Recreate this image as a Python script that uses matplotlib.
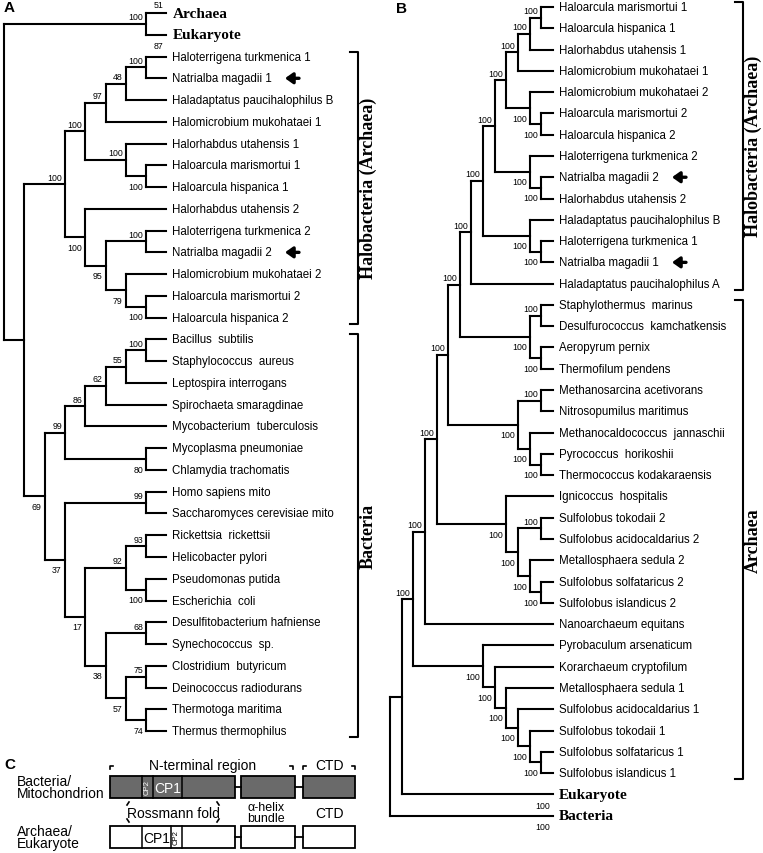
import matplotlib.pyplot as plt
from matplotlib.patches import Rectangle

plt.rcParams['font.family'] = ['Liberation Sans', 'DejaVu Sans']

# ------------------------------------------------------------------ #
#                         data : panel A                             #
# ------------------------------------------------------------------ #
leaves_a = ['Archaea', 'Eukaryote',
            'Haloterrigena turkmenica 1', 'Natrialba magadii 1', 'Haladaptatus paucihalophilus B',
            'Halomicrobium mukohataei 1', 'Halorhabdus utahensis 1', 'Haloarcula marismortui 1',
            'Haloarcula hispanica 1', 'Halorhabdus utahensis 2', 'Haloterrigena turkmenica 2',
            'Natrialba magadii 2', 'Halomicrobium mukohataei 2', 'Haloarcula marismortui 2',
            'Haloarcula hispanica 2',
            'Bacillus  subtilis', 'Staphylococcus  aureus', 'Leptospira interrogans',
            'Spirochaeta smaragdinae', 'Mycobacterium  tuberculosis', 'Mycoplasma pneumoniae',
            'Chlamydia trachomatis', 'Homo sapiens mito', 'Saccharomyces cerevisiae mito',
            'Rickettsia  rickettsii', 'Helicobacter pylori', 'Pseudomonas putida',
            'Escherichia  coli', 'Desulfitobacterium hafniense', 'Synechococcus  sp.',
            'Clostridium  butyricum', 'Deinococcus radiodurans', 'Thermotoga maritima',
            'Thermus thermophilus']

# node = (depth level, support, label side, children)
tree_a = (0, None, None, [
    (7, '100', 'above', ['Archaea', 'Eukaryote']),
    (1, None, None, [
        (3, '100', 'above', [
            (4, '100', 'above', [
                (5, '97', 'above', [
                    (6, '48', 'above', [
                        (7, '100', 'above', ['Haloterrigena turkmenica 1', 'Natrialba magadii 1']),
                        'Haladaptatus paucihalophilus B']),
                    'Halomicrobium mukohataei 1']),
                (6, '100', 'above', [
                    'Halorhabdus utahensis 1',
                    (7, '100', 'below', ['Haloarcula marismortui 1', 'Haloarcula hispanica 1'])])]),
            (4, '100', 'below', [
                'Halorhabdus utahensis 2',
                (5, '95', 'below', [
                    (7, '100', 'above', ['Haloterrigena turkmenica 2', 'Natrialba magadii 2']),
                    (6, '79', 'below', [
                        'Halomicrobium mukohataei 2',
                        (7, '100', 'below', ['Haloarcula marismortui 2', 'Haloarcula hispanica 2'])])])])]),
        (2, '69', 'below', [
            (3, '99', 'above', [
                (4, '86', 'above', [
                    (5, '62', 'above', [
                        (6, '55', 'above', [
                            (7, '100', 'above', ['Bacillus  subtilis', 'Staphylococcus  aureus']),
                            'Leptospira interrogans']),
                        'Spirochaeta smaragdinae']),
                    'Mycobacterium  tuberculosis']),
                (7, '80', 'below', ['Mycoplasma pneumoniae', 'Chlamydia trachomatis'])]),
            (3, '37', 'below', [
                (7, '99', 'above', ['Homo sapiens mito', 'Saccharomyces cerevisiae mito']),
                (4, '17', 'below', [
                    (6, '92', 'above', [
                        (7, '93', 'above', ['Rickettsia  rickettsii', 'Helicobacter pylori']),
                        (7, '100', 'below', ['Pseudomonas putida', 'Escherichia  coli'])]),
                    (5, '38', 'below', [
                        (7, '68', 'above', ['Desulfitobacterium hafniense', 'Synechococcus  sp.']),
                        (6, '57', 'below', [
                            (7, '75', 'above', ['Clostridium  butyricum', 'Deinococcus radiodurans']),
                            (7, '74', 'below', ['Thermotoga maritima', 'Thermus thermophilus'])])])])])])])])

tip_support_a = {'Archaea': ('51', 'above'), 'Eukaryote': ('87', 'below')}
arrows_a = ['Natrialba magadii 1', 'Natrialba magadii 2']
groups_a = [('Halobacteria (Archaea)', 'Haloterrigena turkmenica 1', 'Haloarcula hispanica 2'),
            ('Bacteria', 'Bacillus  subtilis', 'Thermus thermophilus')]

# ------------------------------------------------------------------ #
#                         data : panel B                             #
# ------------------------------------------------------------------ #
leaves_b = ['Haloarcula marismortui 1', 'Haloarcula hispanica 1', 'Halorhabdus utahensis 1',
            'Halomicrobium mukohataei 1', 'Halomicrobium mukohataei 2', 'Haloarcula marismortui 2',
            'Haloarcula hispanica 2', 'Haloterrigena turkmenica 2', 'Natrialba magadii 2',
            'Halorhabdus utahensis 2', 'Haladaptatus paucihalophilus B', 'Haloterrigena turkmenica 1',
            'Natrialba magadii 1', 'Haladaptatus paucihalophilus A',
            'Staphylothermus  marinus', 'Desulfurococcus  kamchatkensis', 'Aeropyrum pernix',
            'Thermofilum pendens', 'Methanosarcina acetivorans', 'Nitrosopumilus maritimus',
            'Methanocaldococcus  jannaschii', 'Pyrococcus  horikoshii', 'Thermococcus kodakaraensis',
            'Ignicoccus  hospitalis', 'Sulfolobus tokodaii 2', 'Sulfolobus acidocaldarius 2',
            'Metallosphaera sedula 2', 'Sulfolobus solfataricus 2', 'Sulfolobus islandicus 2',
            'Nanoarchaeum equitans', 'Pyrobaculum arsenaticum', 'Korarchaeum cryptofilum',
            'Metallosphaera sedula 1', 'Sulfolobus acidocaldarius 1', 'Sulfolobus tokodaii 1',
            'Sulfolobus solfataricus 1', 'Sulfolobus islandicus 1',
            'Eukaryote', 'Bacteria']

tree_b = (0, None, None, [
    (1, None, None, [
        (2, '100', 'above', [
            (3, '100', 'above', [
                (4, '100', 'above', [
                    (5, '100', 'above', [
                        (6, '100', 'above', [
                            (7, '100', 'above', [
                                (8, '100', 'above', [
                                    (9, '100', 'above', [
                                        (10, '100', 'above', [
                                            (11, '100', 'above', [
                                                (12, '100', 'above', [
                                                    (13, '100', 'above', ['Haloarcula marismortui 1', 'Haloarcula hispanica 1']),
                                                    'Halorhabdus utahensis 1']),
                                                'Halomicrobium mukohataei 1']),
                                            (12, '100', 'below', [
                                                'Halomicrobium mukohataei 2',
                                                (13, '100', 'below', ['Haloarcula marismortui 2', 'Haloarcula hispanica 2'])])]),
                                        (12, '100', 'below', [
                                            'Haloterrigena turkmenica 2',
                                            (13, '100', 'below', ['Natrialba magadii 2', 'Halorhabdus utahensis 2'])])]),
                                    (12, '100', 'below', [
                                        'Haladaptatus paucihalophilus B',
                                        (13, '100', 'below', ['Haloterrigena turkmenica 1', 'Natrialba magadii 1'])])]),
                                'Haladaptatus paucihalophilus A']),
                            (12, '100', 'below', [
                                (13, '100', 'above', ['Staphylothermus  marinus', 'Desulfurococcus  kamchatkensis']),
                                (13, '100', 'below', ['Aeropyrum pernix', 'Thermofilum pendens'])])]),
                        (11, '100', 'below', [
                            (13, '100', 'above', ['Methanosarcina acetivorans', 'Nitrosopumilus maritimus']),
                            (12, '100', 'below', [
                                'Methanocaldococcus  jannaschii',
                                (13, '100', 'below', ['Pyrococcus  horikoshii', 'Thermococcus kodakaraensis'])])])]),
                    (10, '100', 'below', [
                        'Ignicoccus  hospitalis',
                        (11, '100', 'below', [
                            (13, '100', 'above', ['Sulfolobus tokodaii 2', 'Sulfolobus acidocaldarius 2']),
                            (12, '100', 'below', [
                                'Metallosphaera sedula 2',
                                (13, '100', 'below', ['Sulfolobus solfataricus 2', 'Sulfolobus islandicus 2'])])])])]),
                'Nanoarchaeum equitans']),
            (8, '100', 'below', [
                'Pyrobaculum arsenaticum',
                (9, '100', 'below', [
                    'Korarchaeum cryptofilum',
                    (10, '100', 'below', [
                        'Metallosphaera sedula 1',
                        (11, '100', 'below', [
                            'Sulfolobus acidocaldarius 1',
                            (12, '100', 'below', [
                                'Sulfolobus tokodaii 1',
                                (13, '100', 'below', ['Sulfolobus solfataricus 1', 'Sulfolobus islandicus 1'])])])])])])]),
        'Eukaryote']),
    'Bacteria'])

tip_support_b = {'Eukaryote': ('100', 'below'), 'Bacteria': ('100', 'below')}
arrows_b = ['Natrialba magadii 2', 'Natrialba magadii 1']
groups_b = [('Halobacteria (Archaea)', 'Haloarcula marismortui 1', 'Haladaptatus paucihalophilus A'),
            ('Archaea', 'Staphylothermus  marinus', 'Sulfolobus islandicus 1')]

bold_tips = ['Archaea', 'Eukaryote', 'Bacteria']

# ------------------------------------------------------------------ #
#                         data : panel C                             #
# ------------------------------------------------------------------ #
row_names_c = ['Bacteria/\nMitochondrion', 'Archaea/\nEukaryote']
row_colors_c = ['#6a6a6a', 'white']

# ------------------------------------------------------------------ #
#                             dessin                                 #
# ------------------------------------------------------------------ #
fig = plt.figure(figsize=(7.63, 8.54), dpi=100)
ax = fig.add_axes([0, 0, 1, 1])
ax.set_xlim(0, 763)
ax.set_ylim(854, 0)
ax.axis('off')

LW = 1.5
SERIF = ['Liberation Serif', 'DejaVu Serif']


def seg(x0, y0, x1, y1, lw=LW):
    ax.plot([x0, x1], [y0, y1], color='black', lw=lw, solid_capstyle='projecting')


def draw_tree(tree, leaves, y0, dy, x0, dx, tip_level, tip_support, arrows, arrow_x, groups, brk_x):
    leaf_y = {name: y0 + i * dy for i, name in enumerate(leaves)}
    tip_x = x0 + tip_level * dx

    def walk(node):
        if isinstance(node, str):
            return tip_x, leaf_y[node]
        level, sup, side, kids = node
        x = x0 + level * dx
        pts = [walk(k) for k in kids]
        ys = [p[1] for p in pts]
        seg(x, min(ys), x, max(ys))
        for kx, ky in pts:
            seg(x, ky, kx, ky)
        y = (ys[0] + ys[-1]) / 2
        if sup is not None:
            yy = y - 7 if side == 'above' else y + 10
            ax.text(x - 3, yy, sup, ha='right', va='center', fontsize=6.3)
        return x, y

    walk(tree)

    for name, y in leaf_y.items():
        if name in bold_tips:
            ax.text(tip_x + 6, y, name, ha='left', va='center', fontsize=11,
                    fontweight='bold', family=SERIF)
        else:
            ax.text(tip_x + 6, y, name, ha='left', va='center', fontsize=8.3)
    for name, (sup, side) in tip_support.items():
        yy = leaf_y[name] - 8 if side == 'above' else leaf_y[name] + 11
        ax.text(tip_x - 3, yy, sup, ha='right', va='center', fontsize=6.3)
    for name in arrows:
        ax.annotate('', xy=(arrow_x, leaf_y[name]), xytext=(arrow_x + 14, leaf_y[name]),
                    arrowprops=dict(arrowstyle='-|>,head_width=0.32,head_length=0.45',
                                    lw=2.4, color='black', shrinkA=0, shrinkB=0))
    for label, first, last in groups:
        ya, yb = leaf_y[first] - 5, leaf_y[last] + 6
        ax.plot([brk_x - 8, brk_x, brk_x, brk_x - 8], [ya, ya, yb, yb], color='black', lw=LW)
        ax.text(brk_x + 10, (ya + yb) / 2, label, rotation=90, ha='center', va='center',
                fontsize=13, fontweight='bold', family=SERIF)


draw_tree(tree_a, leaves_a, 14, 21.76, 4, 20.3, 8, tip_support_a, arrows_a, 285, groups_a, 358)
draw_tree(tree_b, leaves_b, 8, 21.28, 390, 11.64, 14, tip_support_b, arrows_b, 672, groups_b, 743)

ax.text(4, 8, 'A', fontsize=11, fontweight='bold', va='center', ha='left')
ax.text(396, 9, 'B', fontsize=11, fontweight='bold', va='center', ha='left')
ax.text(4, 765, 'C', fontsize=11, fontweight='bold', va='center', ha='left')

# --- panel C : domaines ---
bar_top = [777, 827]
bar_h = 22
boxes = [(110, 235), (241, 295), (303, 355)]
for r, yt in enumerate(bar_top):
    for xa, xb in boxes:
        ax.add_patch(Rectangle((xa, yt), xb - xa, bar_h, facecolor=row_colors_c[r],
                               edgecolor='black', lw=1.3))
    for (xa, xb), (xc, xd) in zip(boxes[:-1], boxes[1:]):
        seg(xb, yt + bar_h / 2, xc, yt + bar_h / 2, lw=1.3)
    ax.text(17, yt + bar_h / 2, row_names_c[r], fontsize=10, va='center', ha='left',
            linespacing=0.9)

# motifs CP1 / CP2
yt = bar_top[0]
for xd in (142, 153, 182):
    seg(xd, yt, xd, yt + bar_h, lw=1.1)
ax.text(147.5, yt + bar_h / 2, 'CP2', rotation=90, color='white', fontsize=5.5, ha='center', va='center')
ax.text(167.5, yt + bar_h / 2 + 1, 'CP1', color='white', fontsize=10, ha='center', va='center')
yt = bar_top[1]
for xd in (142, 171, 182):
    seg(xd, yt, xd, yt + bar_h, lw=1.1)
ax.text(156.5, yt + bar_h / 2 + 1, 'CP1', color='black', fontsize=10, ha='center', va='center')
ax.text(176.5, yt + bar_h / 2, 'CP2', rotation=90, color='black', fontsize=5.5, ha='center', va='center')

# accolades du haut
for xa, xb in [(110, 293), (303, 355)]:
    ax.plot([xa, xa, xa + 3], [770, 767, 767], color='black', lw=1.2)
    ax.plot([xb - 3, xb, xb], [767, 767, 770], color='black', lw=1.2)
ax.text(203, 766, 'N-terminal region', fontsize=10, ha='center', va='center')
ax.text(329, 766, 'CTD', fontsize=10, ha='center', va='center')

# Rossmann fold
ax.plot([127, 129], [806, 803], color='black', lw=1.2)
ax.plot([127, 129], [820, 823], color='black', lw=1.2)
ax.plot([219, 217], [806, 803], color='black', lw=1.2)
ax.plot([219, 217], [820, 823], color='black', lw=1.2)
ax.text(173, 814, 'Rossmann fold', fontsize=10, ha='center', va='center')
ax.text(266, 808, '\u03b1-helix', fontsize=9, ha='center', va='center')
ax.text(266, 819, 'bundle', fontsize=9, ha='center', va='center')
ax.text(329, 814, 'CTD', fontsize=10, ha='center', va='center')

plt.savefig('out.png', dpi=100)
